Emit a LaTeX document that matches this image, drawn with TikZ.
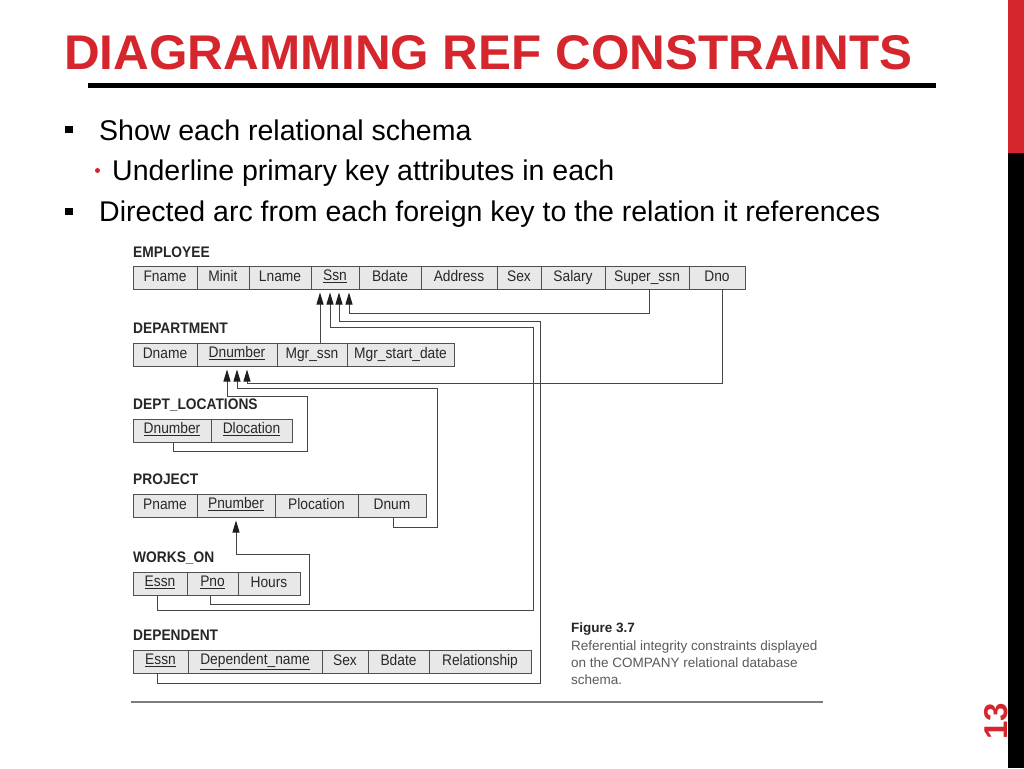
\documentclass[tikz,border=0pt]{standalone}
\usepackage{fontspec}
\setmainfont{Liberation Sans}
\newfontfamily\cellfont[FakeStretch=0.9]{Liberation Sans}
\usetikzlibrary{arrows.meta,calc}
\definecolor{titlered}{RGB}{213,38,46}
\definecolor{cellfill}{RGB}{232,232,232}
\definecolor{cellborder}{RGB}{80,80,80}
\definecolor{celltext}{RGB}{40,40,40}
\definecolor{linkcol}{RGB}{70,70,70}
\definecolor{headcol}{RGB}{30,30,30}
\definecolor{capgray}{RGB}{90,90,90}
\definecolor{rulegray}{RGB}{125,125,125}
\newcommand{\pkey}[1]{\raisebox{1pt}{\underline{#1}}}
\tikzset{
  cell/.style={draw=cellborder, fill=cellfill, line width=0.9pt, minimum height=23pt,
    inner sep=0pt, outer sep=0pt, anchor=north west, text=celltext,
    font=\cellfont\fontsize{15.3}{17}\selectfont, text height=10.5pt, text depth=3pt},
  rel/.style={anchor=base west, inner sep=0pt, text=black!85,
    font=\cellfont\bfseries\fontsize{15.3}{17}\selectfont},
  fk/.style={draw=linkcol, line width=0.9pt, shorten >=3.5pt,
    -{Triangle[length=12pt,width=7pt,color=headcol]}},
  bodytext/.style={anchor=base west, inner sep=0pt, font=\fontsize{28.5}{34}\selectfont},
  captext/.style={anchor=base west, inner sep=0pt, text=capgray, font=\fontsize{13.5}{16}\selectfont},
  sqbullet/.style={fill=black, minimum size=7.5pt, inner sep=0pt},
}
\begin{document}
\begin{tikzpicture}[x=1pt,y=-1pt]
\useasboundingbox (0,0) rectangle (1024,768);
\fill[white] (0,0) rectangle (1024,768);
% side bars
\fill[titlered] (1008,0) rectangle (1024,153);
\fill[black] (1008,153) rectangle (1024,768);
\node[rotate=90, text=titlered, inner sep=0pt, font=\bfseries\fontsize{33}{33}\selectfont] (pagenum) at (996,721) {13};
% title
\node[anchor=base west, inner sep=0pt, text=titlered] (title) at (64,69)
  {\resizebox{848pt}{34pt}{\bfseries DIAGRAMMING REF CONSTRAINTS}};
\draw[line width=5pt] (88,85.5) -- (936,85.5);
% bullets
\node[sqbullet] (b1) at (69,129.5) {};
\node[bodytext] (t1) at (99,140.5) {Show each relational schema};
\node[circle, fill=titlered, minimum size=5pt, inner sep=0pt] (b2) at (97.5,170.5) {};
\node[bodytext] (t2) at (112,180) {Underline primary key attributes in each};
\node[sqbullet] (b3) at (69,211.5) {};
\node[bodytext] (t3) at (99,221.5) {Directed arc from each foreign key to the relation it references};

% EMPLOYEE
\node[rel] (lemp) at (133,257) {EMPLOYEE};
\node[cell, minimum width=64pt] (efname) at (133,266) {Fname};
\node[cell, minimum width=52pt] (eminit) at (efname.north east) {Minit};
\node[cell, minimum width=62pt] (elname) at (eminit.north east) {Lname};
\node[cell, minimum width=48pt] (essn) at (elname.north east) {\pkey{Ssn}};
\node[cell, minimum width=62pt] (ebdate) at (essn.north east) {Bdate};
\node[cell, minimum width=76pt] (eaddr) at (ebdate.north east) {Address};
\node[cell, minimum width=44pt] (esex) at (eaddr.north east) {Sex};
\node[cell, minimum width=64pt] (esal) at (esex.north east) {Salary};
\node[cell, minimum width=84pt] (esuper) at (esal.north east) {Super\_ssn};
\node[cell, minimum width=56pt] (edno) at (esuper.north east) {Dno};

% DEPARTMENT
\node[rel] (ldep) at (133,333.5) {DEPARTMENT};
\node[cell, minimum width=64pt] (ddname) at (133,343) {Dname};
\node[cell, minimum width=80pt] (ddnum) at (ddname.north east) {\pkey{Dnumber}};
\node[cell, minimum width=70pt] (dmgr) at (ddnum.north east) {Mgr\_ssn};
\node[cell, minimum width=107pt] (dmgrd) at (dmgr.north east) {Mgr\_start\_date};

% DEPT_LOCATIONS
\node[rel] (lloc) at (133,409.5) {DEPT\_LOCATIONS};
\node[cell, minimum width=78pt] (lnum) at (133,419) {\pkey{Dnumber}};
\node[cell, minimum width=81pt] (lloca) at (lnum.north east) {\pkey{Dlocation}};

% PROJECT
\node[rel] (lproj) at (133,484.5) {PROJECT};
\node[cell, minimum width=64pt] (ppname) at (133,494) {Pname};
\node[cell, minimum width=78pt] (ppnum) at (ppname.north east) {\pkey{Pnumber}};
\node[cell, minimum width=83pt] (pploc) at (ppnum.north east) {Plocation};
\node[cell, minimum width=68pt] (pdnum) at (pploc.north east) {Dnum};

% WORKS_ON
\node[rel] (lworks) at (133,562.5) {WORKS\_ON};
\node[cell, minimum width=54pt] (wessn) at (133,572) {\pkey{Essn}};
\node[cell, minimum width=51pt] (wpno) at (wessn.north east) {\pkey{Pno}};
\node[cell, minimum width=62pt] (whours) at (wpno.north east) {Hours};

% DEPENDENT
\node[rel] (ldpt) at (133,640.5) {DEPENDENT};
\node[cell, minimum width=55pt] (dpessn) at (133,650) {\pkey{Essn}};
\node[cell, minimum width=134pt] (dpname) at (dpessn.north east) {\pkey{Dependent\_name}};
\node[cell, minimum width=46pt] (dpsex) at (dpname.north east) {Sex};
\node[cell, minimum width=61pt] (dpbdate) at (dpsex.north east) {Bdate};
\node[cell, minimum width=102pt] (dprel) at (dpbdate.north east) {Relationship};

% bend points
\coordinate (bA2) at (533,327);
\coordinate (bA3) at (540,321);
\coordinate (bB2) at (437,388);
\coordinate (bB3) at (307,396);
\coordinate (bC1) at (309,554);

% references to EMPLOYEE.Ssn
\draw[fk] ([xshift=43pt]dmgr.north west) -- ([xshift=9pt]essn.south west);
\draw[fk] ([xshift=24pt]wessn.south west) -- ++(0,15) -| (bA2) -| ([xshift=19pt]essn.south west);
\draw[fk] ([xshift=24pt]dpessn.south west) -- ++(0,10.5) -| (bA3) -| ([xshift=28pt]essn.south west);
\draw[fk] ([xshift=44pt]esuper.south west) -- ++(0,24) -| ([xshift=38pt]essn.south west);
% references to DEPARTMENT.Dnumber
\draw[fk] ([xshift=33pt]edno.south west) -- ++(0,94) -| ([xshift=50pt]ddnum.south west);
\draw[fk] ([xshift=35pt]pdnum.south west) -- ++(0,10) -| (bB2) -| ([xshift=40pt]ddnum.south west);
\draw[fk] ([xshift=40pt]lnum.south west) -- ++(0,9) -| (bB3) -| ([xshift=30pt]ddnum.south west);
% reference to PROJECT.Pnumber
\draw[fk] ([xshift=23pt]wpno.south west) -- ++(0,9) -| (bC1) -| ([xshift=39pt]ppnum.south west);

% caption
\node[captext, text=black!85, font=\bfseries\fontsize{13.5}{16}\selectfont] (capt) at (571,632) {Figure 3.7};
\node[captext] (cap1) at (571,650) {Referential integrity constraints displayed};
\node[captext] (cap2) at (571,667) {on the COMPANY relational database};
\node[captext] (cap3) at (571,684) {schema.};
\draw[rulegray, line width=1.8pt] (131,702) -- (823,702);
\end{tikzpicture}
\end{document}
